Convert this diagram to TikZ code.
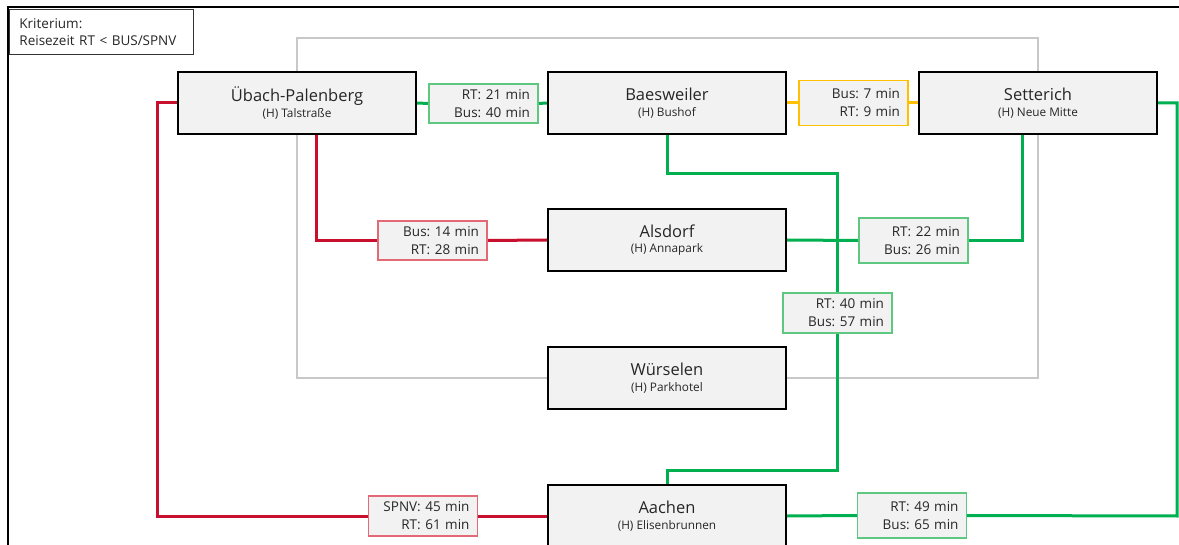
\documentclass[tikz,border=0pt]{standalone}
\usepackage{fontspec}
\setmainfont{Open Sans}
\usetikzlibrary{calc,backgrounds}
\frenchspacing
\definecolor{boxfill}{RGB}{242,242,242}
\definecolor{txt}{RGB}{38,38,38}
\definecolor{redline}{RGB}{200,16,46}
\definecolor{redlab}{RGB}{226,105,118}
\definecolor{greenline}{RGB}{0,176,80}
\definecolor{greenlab}{RGB}{95,200,128}
\definecolor{yellowline}{RGB}{255,192,0}
\definecolor{grayline}{RGB}{200,200,200}
\newcommand\hsubtext[1]{{\fontsize{11.8}{15}\selectfont #1}}
\tikzset{
  city/.style={draw=black, line width=2.4pt, fill=boxfill, minimum width=238pt, minimum height=62pt,
    inner sep=0pt, align=center, text=txt, font=\fontsize{16.5}{15.5}\selectfont},
  tlab/.style={fill=boxfill, line width=1.3pt, minimum height=#1, inner xsep=8pt, inner ysep=0pt,
    text width=93pt, align=right, text=txt, font=\fontsize{13.5}{18}\selectfont},
  tlab/.default=39pt,
  redc/.style={draw=redline, line width=3pt},
  greenc/.style={draw=greenline, line width=3pt},
  yellowc/.style={draw=yellowline, line width=3pt},
  grayc/.style={draw=grayline, line width=2.8pt},
  legend/.style={draw=black!80, line width=0.9pt, fill=white, minimum width=184pt, minimum height=45pt,
    inner xsep=10pt, inner ysep=0pt, text width=164pt, align=left, text=txt, font=\fontsize{13.5}{17}\selectfont},
}
\begin{document}
\begin{tikzpicture}[x=1pt,y=-1pt]
\useasboundingbox (0,0) rectangle (1179,545);

% nodes
\node[city] (up) at (297,103) {Übach-Palenberg\\\hsubtext{(H) Talstraße}};
\node[city] (bw) at (667,103) {Baesweiler\\\hsubtext{(H) Bushof}};
\node[city] (st) at (1038,103) {Setterich\\\hsubtext{(H) Neue Mitte}};
\node[city] (al) at (667,240) {Alsdorf\\\hsubtext{(H) Annapark}};
\node[city] (wu) at (667,378) {Würselen\\\hsubtext{(H) Parkhotel}};
\node[city] (ac) at (667,516) {Aachen\\\hsubtext{(H) Elisenbrunnen}};

% labels
\node[tlab, draw=greenlab] (l1) at (483.5,103.5) {RT: 21 min\\Bus: 40 min};
\node[tlab=45pt, draw=yellowline] (l2) at (853.5,103) {Bus: 7 min\\RT: 9 min};
\node[tlab, draw=redlab] (l3) at (432.5,240.5) {Bus: 14 min\\RT: 28 min};
\node[tlab=45pt, draw=greenlab] (l4) at (913.5,240.5) {RT: 22 min\\Bus: 26 min};
\node[tlab=40pt, draw=greenlab] (l5) at (837.5,313) {RT: 40 min\\Bus: 57 min};
\node[tlab=40pt, draw=redlab] (l6) at (423,516) {SPNV: 45 min\\RT: 61 min};
\node[tlab=45pt, draw=greenlab] (l7) at (912,515.5) {RT: 49 min\\Bus: 65 min};

% legend
\node[legend, anchor=north west] (lg) at (9,9) {Kriterium:\\Reisezeit RT < BUS/SPNV};

% coordinates
\coordinate (gtop) at (667,38);
\coordinate (rleft) at (157,516);
\coordinate (bwturn) at (667,174);
\coordinate (stright) at (1177,103);
\coordinate (acright) at (1177,516);

\begin{pgfonlayer}{background}
  \fill[white] (0,0) rectangle (1179,545);
  % outer frame
  \draw[black, line width=1.8pt] (8,560) -- (8,7) -- (1185,7);
  % gray loop
  \draw[grayc] (up.north) |- (gtop) -| (st.north);
  \draw[grayc] (st.south) |- (wu.east);
  \draw[grayc] (wu.west) -| (up.south);
  % red
  \draw[redc] (up.west) -| (rleft) -- (l6.west);
  \draw[redc] (l6.east) -- (ac.west);
  \draw[redc] ([xshift=19pt]up.south) |- (l3.west);
  \draw[redc] (l3.east) -- (al.west);
  % green
  \draw[greenc] (up.east) -- (l1.west);
  \draw[greenc] (l1.east) -- (bw.west);
  \draw[greenc] ([xshift=-16pt]st.south) |- (l4.east);
  \draw[greenc] (l4.west) -- (al.east);
  \draw[greenc] (bw.south) |- (bwturn) -| (l5.north);
  \draw[greenc] (l5.south) -- ++(0,137) -| (ac.north);
  \draw[greenc] (st.east) -- (stright) -- (acright) -- (l7.east);
  \draw[greenc] (l7.west) -- (ac.east);
  % yellow
  \draw[yellowc] (bw.east) -- (l2.west);
  \draw[yellowc] (l2.east) -- (st.west);
\end{pgfonlayer}
\end{tikzpicture}
\end{document}
